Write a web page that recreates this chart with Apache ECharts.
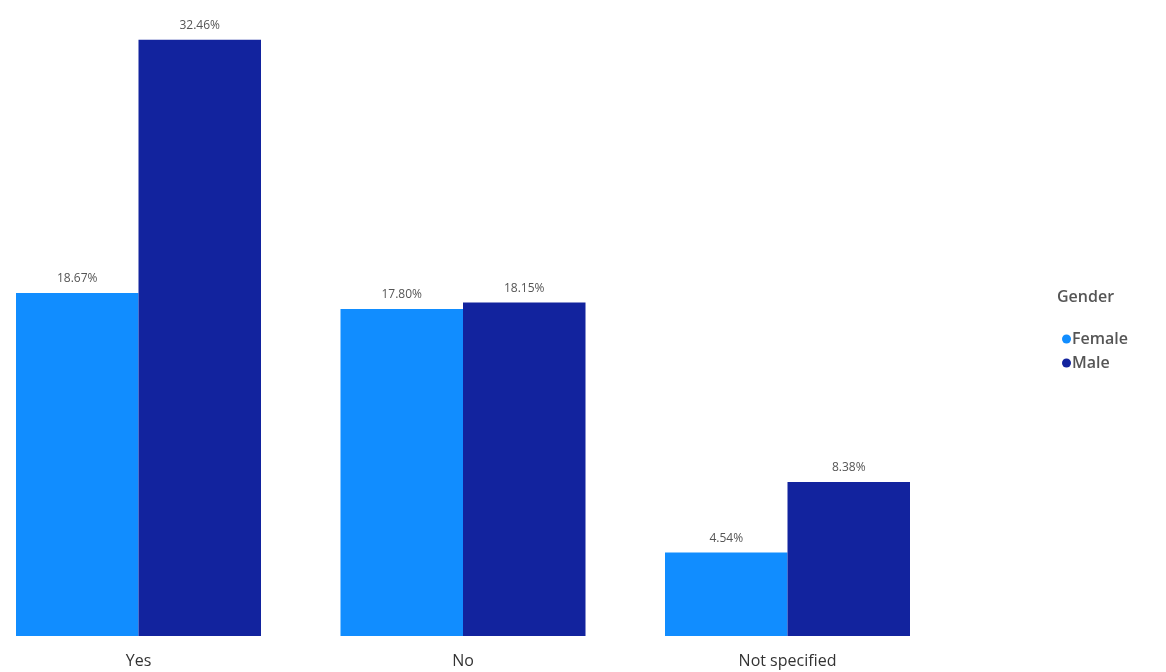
<!DOCTYPE html>
<html>
<head>
<meta charset="utf-8">
<script src="https://cdn.jsdelivr.net/npm/echarts@6/dist/echarts.min.js"></script>
<style>html,body{margin:0;padding:0;background:#fff}#c{width:1166px;height:672px}</style>
</head>
<body>
<div id="c"></div>
<script>
const categories = ['Yes', 'No', 'Not specified'];
const female = [18.67, 17.80, 4.54];
const male = [32.46, 18.15, 8.38];
const seriesNames = ['Female', 'Male'];
const legendTitle = 'Gender';

const chart = echarts.init(document.getElementById('c'), null, {renderer: 'canvas'});
const labelStyle = {
  show: true, position: 'top', distance: 8,
  color: '#555', fontSize: 12, fontFamily: 'Open Sans',
  formatter: p => p.value.toFixed(2) + '%'
};
chart.setOption({
  animation: false,
  grid: {left: 138.5, width: 649, top: 0, bottom: 36},
  xAxis: {
    type: 'category', data: categories, boundaryGap: false,
    axisLine: {show: false}, axisTick: {show: false}, splitLine: {show: false},
    axisLabel: {color: '#333', fontSize: 16, fontFamily: 'Open Sans', margin: 17, interval: 0}
  },
  yAxis: {type: 'value', min: 0, max: 34.62, show: false, splitLine: {show: false}},
  legend: {
    orient: 'vertical', left: 1057, top: 326, icon: 'circle',
    itemWidth: 9, itemHeight: 9, itemGap: 8,
    textStyle: {color: '#555', fontSize: 16, fontWeight: 600, fontFamily: 'Open Sans', padding: [0,0,0,-4]},
    data: seriesNames
  },
  graphic: [{
    type: 'text', left: 1057, top: 289,
    style: {text: legendTitle, fill: '#555', fontSize: 16, fontWeight: 600, fontFamily: 'Open Sans'}
  }],
  series: [
    {name: seriesNames[0], type: 'bar', data: female, barGap: '0%', barWidth: 122.5,
     itemStyle: {color: '#118DFF'}, label: labelStyle},
    {name: seriesNames[1], type: 'bar', data: male, barGap: '0%', barWidth: 122.5,
     itemStyle: {color: '#12239E'}, label: labelStyle}
  ]
});
</script>
</body>
</html>
